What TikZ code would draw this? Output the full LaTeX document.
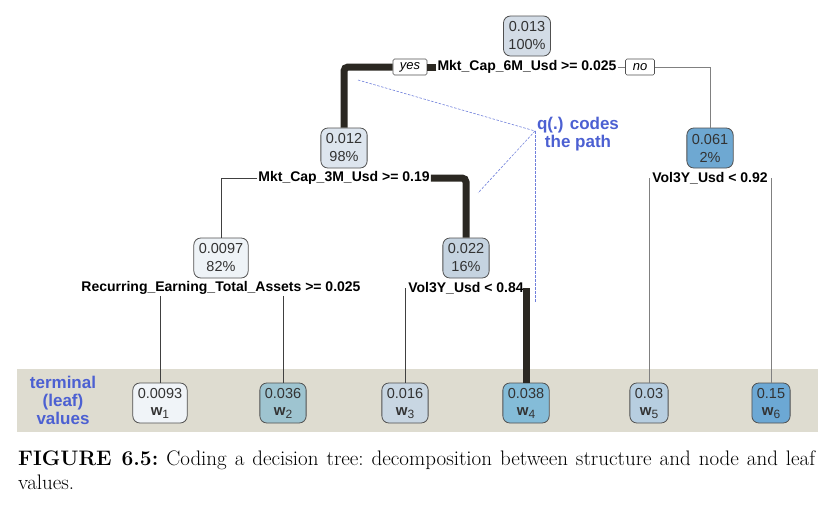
\documentclass[tikz,border=0pt]{standalone}
\usepackage{fontspec}
\newfontfamily\treefont{Liberation Sans}
\usetikzlibrary{calc}
\definecolor{bandgray}{RGB}{222,220,208}
\definecolor{noteblue}{RGB}{76,96,210}
\definecolor{pathdark}{RGB}{43,40,34}
\definecolor{boxedge}{RGB}{80,80,80}
\definecolor{cA}{RGB}{211,220,230}
\definecolor{cB}{RGB}{221,229,238}
\definecolor{cC}{RGB}{238,243,247}
\definecolor{cD}{RGB}{197,211,224}
\definecolor{cE}{RGB}{110,168,210}
\definecolor{wA}{RGB}{240,244,248}
\definecolor{wB}{RGB}{158,196,208}
\definecolor{wC}{RGB}{200,214,226}
\definecolor{wD}{RGB}{132,188,216}
\definecolor{wE}{RGB}{183,206,224}
\definecolor{wF}{RGB}{108,168,212}
\begin{document}
\begin{tikzpicture}[x=1pt,y=-1pt,
        tnode/.style={draw=boxedge,line width=0.8pt,rounded corners=7pt,minimum height=40pt,inner xsep=5pt,inner ysep=1pt,align=center,text=black!80,font=\treefont\fontsize{14.5}{18}\selectfont},
        split/.style={inner sep=1pt,font=\treefont\bfseries\fontsize{14}{16}\selectfont},
        yesno/.style={draw=boxedge,line width=0.6pt,rounded corners=1.5pt,minimum height=16pt,minimum width=34pt,inner xsep=4pt,inner ysep=0pt,font=\treefont\itshape\fontsize{13}{13}\selectfont},
        hot/.style={line width=7pt,draw=pathdark,rounded corners=4pt},
        thinA/.style={line width=0.9pt,draw=black!75},
        thinB/.style={line width=0.9pt,draw=black!50},
        note/.style={align=center,text=noteblue,font=\treefont\bfseries\fontsize{17}{18}\selectfont},
        qline/.style={draw=noteblue!80,line width=0.6pt,dash pattern=on 2.5pt off 1.5pt}]
        \def\lvA{36}
        \def\lvB{148}
        \def\lvC{258}
        \def\lvD{403}
        \useasboundingbox (0,0) rectangle (832,517);
        \fill[bandgray] (17,369) rectangle (818,432);

        \node[tnode,fill=cA] (n0) at (527,\lvA) {0.013\\100\%};
        \node[split] (s0) at (527,\lvA+31) {Mkt\_Cap\_6M\_Usd >= 0.025};
        \node[yesno] (yes) at (410,\lvA+31) {yes};
        \node[yesno,minimum width=29pt] (no) at (640,\lvA+31) {no};

        \node[tnode,fill=cB] (n1) at (344,\lvB) {0.012\\98\%};
        \node[split] (s1) at (344,\lvB+30) {Mkt\_Cap\_3M\_Usd >= 0.19};
        \node[tnode,fill=cE] (n4) at (710,\lvB) {0.061\\2\%};
        \node[split] (s4) at (710,\lvB+30) {Vol3Y\_Usd < 0.92};

        \node[tnode,fill=cC] (n2) at (221,\lvC) {0.0097\\82\%};
        \node[split] (s2) at (221,\lvC+30) {Recurring\_Earning\_Total\_Assets >= 0.025};
        \node[tnode,fill=cD] (n3) at (466,\lvC) {0.022\\16\%};
        \node[split] (s3) at (466,\lvC+30) {Vol3Y\_Usd < 0.84};

        \foreach \x/\val/\col/\i in {160/0.0093/wA/1,283/0.036/wB/2,405/0.016/wC/3,526/0.038/wD/4,649/0.03/wE/5,771/0.15/wF/6} {
                \node[tnode,fill=\col] (l\i) at (\x,\lvD) {\val\\[-1pt]{\bfseries\fontsize{15}{15}\selectfont w}{\fontsize{12}{12}\selectfont\raisebox{-3pt}{\i}}};
            }

        \draw[hot] (s0.west) -- (yes.east);
        \draw[hot] (yes.west) -| (n1.north);
        \draw[thinB] (s0.east) -- (no.west);
        \draw[thinB] (no.east) -| (n4.north);
        \draw[thinA] (s1.west) -| (n2.north);
        \draw[hot] (s1.east) -| (n3.north);
        \draw[thinA] (l1.north |- s2.south) -- (l1.north);
        \draw[thinA] (l2.north |- s2.south) -- (l2.north);
        \draw[thinA] (l3.north |- s3.center) -- (l3.north);
        \draw[hot,rounded corners=0pt] (l4.north |- s3.center) -- (l4.north);
        \draw[thinB] (l5.north |- s4.center) -- (l5.north);
        \draw[thinB] (l6.north |- s4.center) -- (l6.north);

        \node[note] (term) at (63,400) {terminal\\(leaf)\\values};
        \node[note] (qtxt) at (578,134) {q(.) codes\\the path};
        \coordinate (qp) at (535,131);
        \coordinate (qa) at (358,80);
        \coordinate (qb) at (478,193);
        \coordinate (qc) at (535,303);
        \draw[qline] (qa) -- (qp) -- (qb);
        \draw[qline] (qp) -- (qc);

        \node[anchor=north west,inner sep=0pt,text width=797pt,align=justify,font=\fontsize{21}{24}\selectfont\frenchspacing] (cap) at (18,451) {\textbf{FIGURE 6.5:} Coding a decision tree: decomposition between structure and node and leaf\linebreak values.};
    \end{tikzpicture}
\end{document}
